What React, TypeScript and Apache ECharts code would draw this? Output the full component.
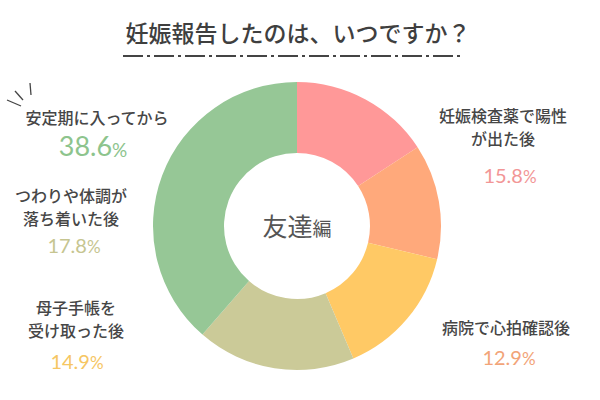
import React, { useEffect, useRef } from "react";
import * as echarts from "echarts";

const titleText = "妊娠報告したのは、いつですか？";
const centerMain = "友達";
const centerSub = "編";
const categories = [
  "妊娠検査薬で陽性\nが出た後",
  "病院で心拍確認後",
  "母子手帳を\n受け取った後",
  "つわりや体調が\n落ち着いた後",
  "安定期に入ってから",
];
const values = [15.8, 12.9, 14.9, 17.8, 38.6];
const sliceColors = ["#FF9898", "#FFA97B", "#FFC965", "#CBCA98", "#96C796"];
const valueColors = ["#F29696", "#F2A478", "#F6C663", "#C6C590", "#8DC48D"];

// layout: label block center x, y ; value center x, y ; value size
const labelLayout = [
  { x: 503, y: 126, vx: 510, vy: 174, big: false },
  { x: 506, y: 327, vx: 509, vy: 356, big: false },
  { x: 76, y: 318, vx: 77, vy: 360, big: false },
  { x: 71, y: 206, vx: 74, vy: 244, big: false },
  { x: 97, y: 117, vx: 93, vy: 145, big: true },
];

export default function App() {
  const ref = useRef<HTMLDivElement>(null);
  useEffect(() => {
    if (!ref.current) return;
    const chart = echarts.init(ref.current, undefined, { renderer: "svg" });
    const font = '"Noto Sans CJK JP", "Noto Sans", sans-serif';
    const numFont = 'Lato, "Noto Sans", sans-serif';

    const graphics: any[] = [];
    categories.forEach((c, i) => {
      const L = labelLayout[i];
      graphics.push({
        type: "text",
        x: L.x,
        y: L.y,
        style: {
          text: c,
          fontFamily: font,
          fontSize: 16,
          fontWeight: 500,
          lineHeight: 23,
          fill: "#464646",
          align: "center",
          verticalAlign: "middle",
        },
      });
      graphics.push({
        type: "text",
        x: L.vx,
        y: L.vy,
        style: {
          text: `{n|${values[i].toFixed(1)}}{p|%}`,
          align: "center",
          verticalAlign: "middle",
          rich: {
            n: {
              fontFamily: numFont,
              fontSize: L.big ? 27 : 20,
              fontWeight: 400,
              fill: valueColors[i],
              verticalAlign: "bottom",
              lineHeight: L.big ? 28 : 21,
            },
            p: {
              fontFamily: numFont,
              fontSize: L.big ? 19 : 17,
              fontWeight: 400,
              fill: valueColors[i],
              verticalAlign: "bottom",
              lineHeight: L.big ? 26 : 20,
            },
          },
        },
      });
    });

    // sparkle marks
    const sparkle = [
      [7, 100, 21, 106],
      [15, 91, 23, 100],
      [30, 83, 31, 95],
    ];
    sparkle.forEach((s) =>
      graphics.push({
        type: "line",
        shape: { x1: s[0], y1: s[1], x2: s[2], y2: s[3] },
        style: { stroke: "#444", lineWidth: 1.3 },
      })
    );

    // title + dashed underline
    graphics.push({
      type: "text",
      x: 298,
      y: 32,
      style: {
        text: titleText,
        fontFamily: font,
        fontSize: 23,
        fontWeight: 500,
        fill: "#3f3f3f",
        align: "center",
        verticalAlign: "middle",
      },
    });
    graphics.push({
      type: "line",
      shape: { x1: 123, y1: 56, x2: 462, y2: 56 },
      style: { stroke: "#444", lineWidth: 1.8, lineDash: [20, 4, 3, 4] },
    });

    // center text
    graphics.push({
      type: "text",
      x: 297,
      y: 223,
      style: {
        text: `{a|${centerMain}}{b|${centerSub}}`,
        align: "center",
        verticalAlign: "middle",
        rich: {
          a: { fontFamily: font, fontSize: 25, fill: "#555", verticalAlign: "bottom", lineHeight: 28 },
          b: { fontFamily: font, fontSize: 19, fill: "#555", verticalAlign: "bottom", lineHeight: 25 },
        },
      },
    });

    chart.setOption({
      animation: false,
      backgroundColor: "#ffffff",
      series: [
        {
          type: "pie",
          radius: [73, 144],
          center: [297, 226],
          startAngle: 90,
          clockwise: true,
          label: { show: false },
          labelLine: { show: false },
          itemStyle: { borderWidth: 0 },
          emphasis: { disabled: true },
          data: values.map((v, i) => ({
            value: v,
            name: categories[i],
            itemStyle: { color: sliceColors[i] },
          })),
        },
      ],
      graphic: graphics,
    });
    return () => chart.dispose();
  }, []);
  return <div ref={ref} style={{ width: 600, height: 400, position: "absolute", left: 0, top: 0 }} />;
}
